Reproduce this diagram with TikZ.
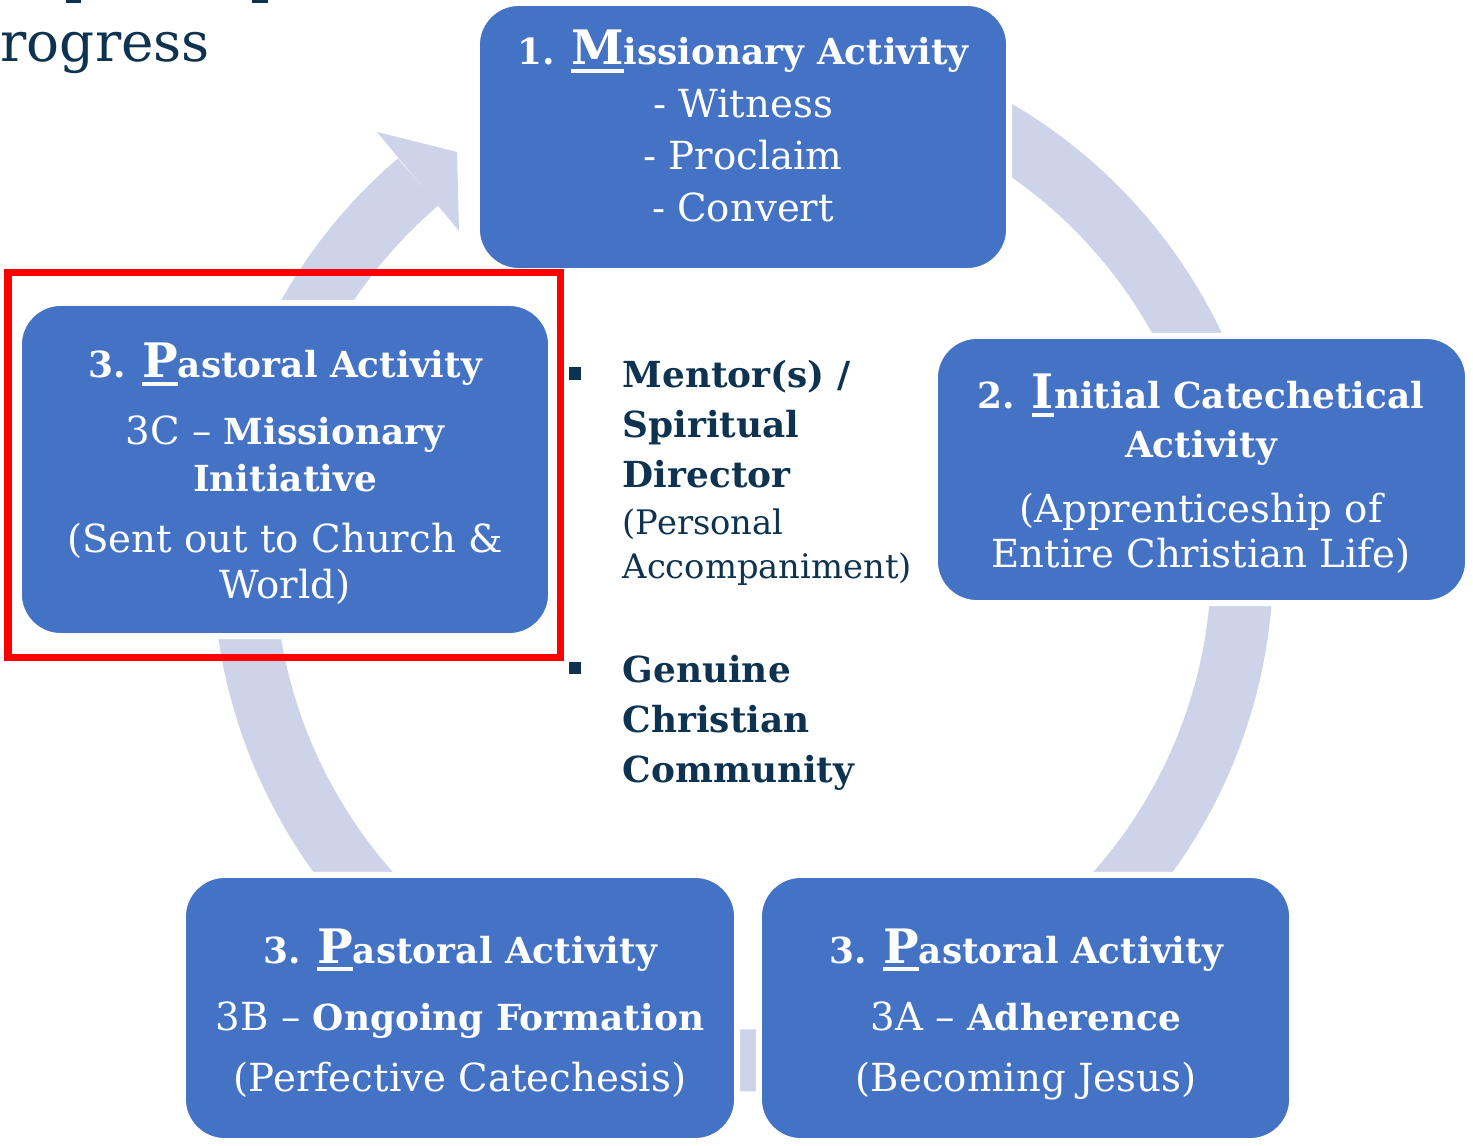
\documentclass[tikz,border=0pt]{standalone}
\usepackage{fontspec}
\setmainfont{DejaVu Serif}
\usetikzlibrary{positioning}
\definecolor{stageblue}{HTML}{4472C4}
\definecolor{ringfill}{HTML}{CDD4EA}
\definecolor{navy}{HTML}{0E3350}
\newsavebox\capbox
\newcommand\firstcap[1]{\sbox\capbox{\fontsize{13.5}{14}\selectfont #1}\rlap{\rule[-2.2pt]{\wd\capbox}{1.2pt}}\usebox\capbox}
\newcommand\boldpart[1]{{\fontsize{10.2}{12}\selectfont\bfseries #1}}

\begin{document}
\begin{tikzpicture}[x=0.01cm, y=-0.01cm,
  stage/.style={draw=white, line width=0.06cm, fill=stageblue, rounded corners=0.42cm, inner sep=0pt},
  head/.style={anchor=base, text=white, font=\fontsize{10.2}{12}\selectfont\bfseries},
  body/.style={anchor=base, text=white, font=\fontsize{11}{13}\selectfont},
  listbold/.style={anchor=base west, inner sep=0pt, text=navy, font=\fontsize{10.2}{12}\selectfont\bfseries},
  listplain/.style={anchor=base west, inner sep=0pt, text=navy, font=\fontsize{9.6}{12}\selectfont},
  bullet/.style={fill=navy, minimum size=0.12cm, inner sep=0pt},
  ring/.style={draw=ringfill, line width=0.62cm},
  focus/.style={draw=red, line width=0.07cm}]
\useasboundingbox (0,0) rectangle (1473,1146);

% title left over from the slide
\node[anchor=base west, text=navy, font=\fontsize{15.6}{18}\selectfont, inner sep=0pt] (title) at (0,62) {rogress};
\fill[navy] (66,0) rectangle (81,3);
\fill[navy] (252,0) rectangle (268,3);

% the cycle
\coordinate (hub) at (743,561);
\draw[ring] (hub) ++(119:4.99cm) arc[start angle=119, end angle=-229.4, radius=4.99cm];
\fill[ringfill] (377,132) -- (457,152) -- (459,231) -- cycle;

\node[stage, minimum width=5.32cm, minimum height=2.68cm] (mission) at (743,137) {};
\node[stage, minimum width=5.33cm, minimum height=2.67cm] (initial) at (1201.5,469.5) {};
\node[stage, minimum width=5.33cm, minimum height=2.66cm] (adhere) at (1025.5,1008) {};
\node[stage, minimum width=5.54cm, minimum height=2.66cm] (ongoing) at (460,1008) {};
\node[stage, minimum width=5.32cm, minimum height=3.33cm] (sent) at (285,469.5) {};

% 1
\node[head] (mission1) at (743,65) {1. \firstcap{M}issionary Activity};
\node[body] (mission2) at (743,118) {- Witness};
\node[body] (mission3) at (743,170) {- Proclaim};
\node[body] (mission4) at (743,222) {- Convert};

% 2
\node[head] (initial1) at (1201,409) {2. \firstcap{I}nitial Catechetical};
\node[head] (initial2) at (1201,457) {Activity};
\node[body] (initial3) at (1201,522) {(Apprenticeship of};
\node[body] (initial4) at (1201,567) {Entire Christian Life)};

% 3A
\node[head] (adhere1) at (1026,963) {3. \firstcap{P}astoral Activity};
\node[body] (adhere2) at (1026,1030) {3A -- \boldpart{Adherence}};
\node[body] (adhere3) at (1026,1091) {(Becoming Jesus)};

% 3B
\node[head] (ongoing1) at (460,963) {3. \firstcap{P}astoral Activity};
\node[body] (ongoing2) at (460,1030) {3B -- \boldpart{Ongoing Formation}};
\node[body] (ongoing3) at (460,1091) {(Perfective Catechesis)};

% 3C
\node[head] (sent1) at (285,378) {3. \firstcap{P}astoral Activity};
\node[body] (sent2) at (285,445) {3C -- \boldpart{Missionary}};
\node[head] (sent3) at (285,491) {Initiative};
\node[body] (sent4) at (285,552) {(Sent out to Church \&};
\node[body] (sent5) at (285,598) {World)};

\draw[focus] (8,273) rectangle (560,657);

% supports
\node[bullet] (dot1) at (574.5,373.5) {};
\node[listbold] (mentor1) at (622,388) {Mentor(s) /};
\node[listbold] (mentor2) at (622,438) {Spiritual};
\node[listbold] (mentor3) at (622,488) {Director};
\node[listplain] (mentor4) at (622,534) {(Personal};
\node[listplain] (mentor5) at (622,578) {Accompaniment)};

\node[bullet] (dot2) at (574.5,667.5) {};
\node[listbold] (commun1) at (622,682) {Genuine};
\node[listbold] (commun2) at (622,732) {Christian};
\node[listbold] (commun3) at (622,782) {Community};
\end{tikzpicture}
\end{document}
